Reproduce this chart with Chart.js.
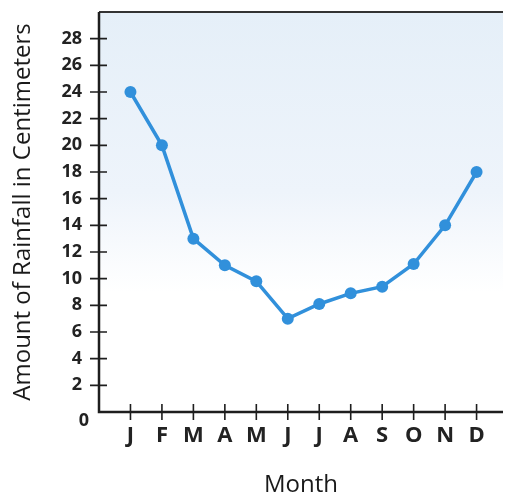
<!DOCTYPE html>
<html>
<head>
<meta charset="utf-8">
<script src="https://cdn.jsdelivr.net/npm/chart.js@4"></script>
<style>
html,body{margin:0;padding:0;background:#fff;}
#wrap{width:509px;height:495px;}
</style>
</head>
<body>
<div id="wrap"><canvas id="c" width="509" height="495"></canvas></div>
<script>
const months = ['J','F','M','A','M','J','J','A','S','O','N','D'];
const monthNumbers = [1,2,3,4,5,6,7,8,9,10,11,12];
const rainfall = [24, 20, 13, 11, 9.8, 7, 8.1, 8.9, 9.4, 11.1, 14, 18];
const yTickValues = [2,4,6,8,10,12,14,16,18,20,22,24,26,28];
const originLabel = '0';

const axisColor = '#1e1e1e';
const lineColor = '#3190db';

const decor = {
  id: 'decor',
  beforeDatasetsDraw(chart) {
    const {ctx, chartArea: a} = chart;
    ctx.save();
    const g = ctx.createLinearGradient(0, a.top, 0, a.bottom);
    g.addColorStop(0, '#e5eff8');
    g.addColorStop(0.45, '#eef4fb');
    g.addColorStop(0.7, '#ffffff');
    g.addColorStop(1, '#ffffff');
    ctx.fillStyle = g;
    ctx.fillRect(a.left, a.top, a.right - a.left, a.bottom - a.top);
    // top border
    ctx.strokeStyle = '#333';
    ctx.lineWidth = 2;
    ctx.beginPath();
    ctx.moveTo(a.left, a.top);
    ctx.lineTo(a.right, a.top);
    ctx.stroke();
    // axes
    ctx.strokeStyle = axisColor;
    ctx.lineWidth = 2.5;
    ctx.beginPath();
    ctx.moveTo(a.left, a.top);
    ctx.lineTo(a.left, a.bottom);
    ctx.lineTo(a.right, a.bottom);
    ctx.stroke();
    // crossing ticks
    const xs = chart.scales.x, ys = chart.scales.y;
    ctx.lineWidth = 1.6;
    ctx.beginPath();
    monthNumbers.forEach(v => {
      const px = xs.getPixelForValue(v);
      ctx.moveTo(px, a.bottom - 8);
      ctx.lineTo(px, a.bottom + 8);
    });
    yTickValues.forEach(v => {
      const py = ys.getPixelForValue(v);
      ctx.moveTo(a.left - 9, py);
      ctx.lineTo(a.left + 8, py);
    });
    ctx.stroke();
    // origin label, set below-left of the origin as in the reference
    ctx.fillStyle = '#222';
    ctx.font = 'bold 18px "Open Sans"';
    ctx.textAlign = 'right';
    ctx.textBaseline = 'middle';
    ctx.fillText(originLabel, a.left - 10, ys.getPixelForValue(0) + 9);
    ctx.restore();
  }
};

new Chart(document.getElementById('c'), {
  type: 'line',
  data: {
    datasets: [{
      data: monthNumbers.map((m, i) => ({x: m, y: rainfall[i]})),
      borderColor: lineColor,
      backgroundColor: lineColor,
      borderWidth: 3.5,
      pointRadius: 6,
      pointBorderWidth: 0,
      tension: 0,
      fill: false
    }]
  },
  options: {
    responsive: false,
    animation: false,
    devicePixelRatio: 1,
    layout: {padding: {top: 12, right: 0, bottom: 0, left: 0}},
    plugins: {legend: {display: false}, tooltip: {enabled: false}},
    scales: {
      x: {
        type: 'linear',
        min: 0,
        max: 12.84,
        afterBuildTicks(scale) { scale.ticks = monthNumbers.map(v => ({value: v})); },
        afterFit(scale) { scale.height = 83; scale.paddingLeft = 0; scale.paddingRight = 0; },
        grid: {display: false, drawTicks: false},
        border: {display: false},
        ticks: {
          padding: 11,
          maxRotation: 0,
          autoSkip: false,
          color: '#222',
          font: {family: 'Open Sans', size: 22, weight: 'bold'},
          callback: (v) => months[v - 1]
        },
        title: {
          display: true,
          text: 'Month',
          color: '#1a1a1a',
          padding: {top: 0, bottom: -2},
          font: {family: 'Open Sans', size: 24, lineHeight: 1}
        }
      },
      y: {
        min: 0,
        max: 30,
        afterBuildTicks(scale) { scale.ticks = yTickValues.map(v => ({value: v})); },
        afterFit(scale) { scale.width = 99; scale.paddingTop = 0; scale.paddingBottom = 0; },
        grid: {display: false, drawTicks: false},
        border: {display: false},
        ticks: {
          padding: 17,
          color: '#222',
          font: {family: 'Open Sans', size: 18, weight: 'bold'},
          callback: (v) => String(v)
        },
        title: {
          display: true,
          text: 'Amount of Rainfall in Centimeters',
          color: '#1a1a1a',
          padding: {top: 9, bottom: 0},
          font: {family: 'Open Sans', size: 24, lineHeight: 1.2}
        }
      }
    }
  },
  plugins: [decor]
});
</script>
</body>
</html>
